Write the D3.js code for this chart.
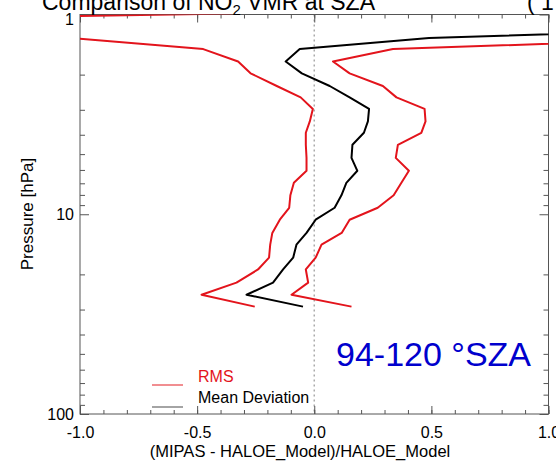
<!DOCTYPE html>
<html lang="en">
<head>
    <meta charset="UTF-8">
    <title>NO2 VMR comparison</title>
    <script src="https://d3js.org/d3.v7.min.js"></script>
    <style>
        body { margin: 0; background: #fff; }
        text { font-family: "Liberation Sans", Arial, Helvetica, sans-serif; }
        .frame { fill: none; stroke: #555; stroke-width: 1; }
        .axis path { display: none; }
        .axis line { stroke: #555; stroke-width: 1; }
        .axis text { font-size: 16px; fill: #000; font-family: "Liberation Sans", Arial, sans-serif; }
        .profile { fill: none; stroke-width: 2; stroke-linejoin: round; }
    </style>
</head>
<body>
<svg id="chart" width="556" height="461"></svg>

<script>
    // pressure levels [hPa]
    const pressure = [0.989, 1.142, 1.31, 1.49, 1.72, 1.97, 2.28, 2.60, 2.97, 3.43, 3.91, 4.49, 5.22,
        6.06, 6.96, 8.04, 9.28, 10.65, 12.4, 14.2, 16.5, 18.9, 22.0, 25.3, 29.0];

    // mean deviation (black)
    const meanDeviation = [2.2, 2.13, 0.49, -0.062, -0.122, -0.053, 0.066, 0.151, 0.234, 0.229, 0.212, 0.163, 0.159,
        0.184, 0.137, 0.116, 0.087, 0.006, -0.033, -0.076, -0.090, -0.133, -0.176, -0.289, -0.048];

    // RMS envelope (red), left and right curve
    const rmsLow = [-0.35, -3.6, -1.04, -0.474, -0.325, -0.272, -0.160, -0.058, -0.006, -0.019, -0.036, -0.036, -0.033,
        -0.033, -0.087, -0.102, -0.107, -0.147, -0.179, -0.188, -0.193, -0.240, -0.332, -0.481, -0.254];
    const rmsHigh = [2.3, 2.3, 1.74, 0.336, 0.080, 0.151, 0.293, 0.351, 0.471, 0.475, 0.457, 0.357, 0.348,
        0.404, 0.372, 0.339, 0.271, 0.151, 0.117, 0.031, 0.006, -0.036, -0.026, -0.097, 0.159];

    const xMajor = [-1.0, -0.5, 0.0, 0.5, 1.0];
    const xMinor = d3.range(-10, 11).map(i => i / 10);
    const yMajor = [1, 10, 100];
    const yMinor = [2, 3, 4, 5, 6, 7, 8, 9, 20, 30, 40, 50, 60, 70, 80, 90];

    const red = "#e3141c";
    const plotL = 80, plotR = 548.5, plotT = 14.5, plotB = 414;

    const svg = d3.select("#chart");
    const x = d3.scaleLinear().domain([-1, 1]).range([plotL, plotR]);
    const y = d3.scaleLog().domain([1, 100]).range([plotT, plotB]);

    svg.append("clipPath").attr("id", "plotclip")
        .append("rect")
        .attr("x", plotL).attr("y", plotT)
        .attr("width", plotR - plotL).attr("height", plotB - plotT);

    // zero line
    svg.append("line")
        .attr("x1", x(0)).attr("x2", x(0))
        .attr("y1", plotT).attr("y2", plotB)
        .attr("stroke", "#aaa")
        .attr("stroke-width", 1.5)
        .attr("stroke-dasharray", "2,3");

    // ticks (inward, on all four sides)
    const fmtX = d => d.toFixed(1);
    svg.append("g").attr("class", "axis")
        .attr("transform", `translate(0,${plotB})`)
        .call(d3.axisBottom(x).tickValues(xMinor).tickSize(-4).tickFormat(""));
    svg.append("g").attr("class", "axis")
        .attr("transform", `translate(0,${plotB})`)
        .call(d3.axisBottom(x).tickValues(xMajor).tickSize(-8).tickPadding(13).tickFormat(fmtX));
    svg.append("g").attr("class", "axis")
        .attr("transform", `translate(0,${plotT})`)
        .call(d3.axisTop(x).tickValues(xMinor).tickSize(-4).tickFormat(""));
    svg.append("g").attr("class", "axis")
        .attr("transform", `translate(0,${plotT})`)
        .call(d3.axisTop(x).tickValues(xMajor).tickSize(-8).tickFormat(""));

    svg.append("g").attr("class", "axis")
        .attr("transform", `translate(${plotL},0)`)
        .call(d3.axisLeft(y).tickValues(yMinor).tickSize(-5).tickFormat(""));
    const yLab = svg.append("g").attr("class", "axis")
        .attr("transform", `translate(${plotL},0)`)
        .call(d3.axisLeft(y).tickValues(yMajor).tickSize(-9).tickPadding(6).tickFormat(d3.format("d")));
    yLab.selectAll("text").filter(d => d === 1).attr("dy", "0.62em");
    svg.append("g").attr("class", "axis")
        .attr("transform", `translate(${plotR},0)`)
        .call(d3.axisRight(y).tickValues(yMinor).tickSize(-5).tickFormat(""));
    svg.append("g").attr("class", "axis")
        .attr("transform", `translate(${plotR},0)`)
        .call(d3.axisRight(y).tickValues(yMajor).tickSize(-9).tickFormat(""));

    svg.append("rect").attr("class", "frame")
        .attr("x", plotL).attr("y", plotT)
        .attr("width", plotR - plotL).attr("height", plotB - plotT);

    // profiles
    const line = d3.line()
        .x(d => x(d[0]))
        .y(d => y(d[1]));
    const plot = svg.append("g").attr("clip-path", "url(#plotclip)");
    const series = [
        {values: rmsLow, color: red},
        {values: rmsHigh, color: red},
        {values: meanDeviation, color: "#000"}
    ];
    plot.selectAll("path.profile")
        .data(series)
        .join("path")
        .attr("class", "profile")
        .attr("stroke", d => d.color)
        .attr("d", d => line(d.values.map((v, i) => [v, pressure[i]])));

    // legend
    const legend = [
        {label: "RMS", color: red, textColor: red, ty: 382, ly: 385},
        {label: "Mean Deviation", color: "#444", textColor: "#000", ty: 403, ly: 407}
    ];
    const lg = svg.append("g");
    lg.selectAll("line")
        .data(legend)
        .join("line")
        .attr("x1", 152).attr("x2", 183)
        .attr("y1", d => d.ly).attr("y2", d => d.ly)
        .attr("stroke", d => d.color)
        .attr("stroke-width", 1.2)
        .attr("opacity", 0.8);
    lg.selectAll("text")
        .data(legend)
        .join("text")
        .attr("x", 198).attr("y", d => d.ty)
        .attr("font-size", 16)
        .attr("fill", d => d.textColor)
        .text(d => d.label);

    // SZA annotation
    svg.append("text")
        .attr("x", 336).attr("y", 366)
        .attr("font-size", 34)
        .attr("fill", "#0000cd")
        .text("94-120 °SZA");

    // title (cut at top of the picture)
    const title = svg.append("text")
        .attr("x", 42).attr("y", 10)
        .attr("font-size", 23);
    title.append("tspan").text("Comparison of NO");
    title.append("tspan").attr("font-size", 15).attr("dy", 5).text("2");
    title.append("tspan").attr("dy", -5).text(" VMR at SZA");
    svg.append("text")
        .attr("x", 527).attr("y", 10)
        .attr("font-size", 23)
        .text("( 1");

    // axis titles
    svg.append("text")
        .attr("x", 300).attr("y", 457)
        .attr("text-anchor", "middle")
        .attr("font-size", 16.5)
        .text("(MIPAS - HALOE_Model)/HALOE_Model");
    svg.append("text")
        .attr("transform", "translate(33,214) rotate(-90)")
        .attr("text-anchor", "middle")
        .attr("font-size", 17)
        .text("Pressure [hPa]");
</script>
</body>
</html>
